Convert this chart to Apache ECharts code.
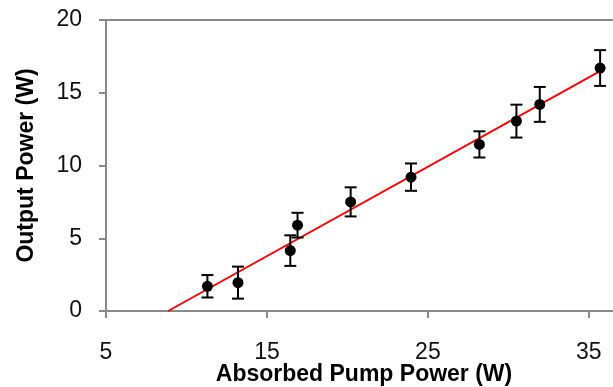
<!DOCTYPE html>
<html>
	<head>
		<meta charset="utf-8">
		<title></title>
		<script src="https://cdn.jsdelivr.net/npm/echarts@6/dist/echarts.min.js" type="text/javascript" charset="utf-8"></script>
		<style>
			body { margin: 0; background: #fff; }
		</style>
	</head>
	<body>
		<div id="mainChart" style="width: 613px;height:387px;"></div>
		<script type="text/javascript">
			// measured points (absorbed pump power, output power, error)
			var pumpPower = [11.3, 13.2, 16.45, 16.9, 20.2, 23.95, 28.2, 30.5, 31.95, 35.7];
			var outputPower = [1.7, 1.95, 4.15, 5.9, 7.5, 9.2, 11.45, 13.05, 14.2, 16.7];
			var errors = [0.77, 1.1, 1.05, 0.85, 1.0, 0.94, 0.9, 1.13, 1.2, 1.23];
			// linear fit end points
			var fitX = [8.86, 35.7];
			var fitY = [0, 16.48];

			var labelFont = 'Liberation Sans';
			var axisGray = '#898989';

			var pts = [];
			var bars = [];
			for (var i = 0; i < pumpPower.length; i++) {
				pts.push([pumpPower[i], outputPower[i]]);
				bars.push([pumpPower[i], outputPower[i] - errors[i], outputPower[i] + errors[i]]);
			}
			var fitData = [];
			for (var j = 0; j < fitX.length; j++) {
				fitData.push([fitX[j], fitY[j]]);
			}

			var myChart = echarts.init(document.getElementById('mainChart'));
			var option = {
				backgroundColor: '#fff',
				animation: false,
				title: {
					text: 'Absorbed Pump Power (W)',
					left: 364,
					top: 363,
					textAlign: 'center',
					padding: 0,
					textStyle: { fontFamily: labelFont, fontWeight: 'bold', fontSize: 23, color: '#000' }
				},
				grid: { left: 106, top: 20, bottom: 76, right: 0 },
				xAxis: [{
					type: 'value',
					min: 5, max: 36.5, interval: 10,
					axisLine: { lineStyle: { color: axisGray, width: 2 } },
					axisTick: { length: 7, lineStyle: { color: axisGray, width: 2 } },
					axisLabel: { margin: 30, fontFamily: labelFont, fontSize: 23, color: '#111', showMaxLabel: false },
					splitLine: { show: false }
				}, {
					// top border of the plot
					type: 'value',
					position: 'top',
					min: 5, max: 36.5,
					axisLine: { lineStyle: { color: axisGray, width: 2 } },
					axisTick: { show: false },
					axisLabel: { show: false },
					splitLine: { show: false }
				}],
				yAxis: {
					type: 'value',
					min: 0, max: 20, interval: 5,
					name: 'Output Power (W)',
					nameLocation: 'middle',
					nameGap: 68,
					nameTextStyle: { fontFamily: labelFont, fontWeight: 'bold', fontSize: 23, color: '#000' },
					axisLine: { lineStyle: { color: axisGray, width: 2 } },
					axisTick: { length: 7, lineStyle: { color: axisGray, width: 2 } },
					axisLabel: { margin: 24, fontFamily: labelFont, fontSize: 23, color: '#111' },
					splitLine: { show: false }
				},
				series: [{
					type: 'line',
					data: fitData,
					showSymbol: false,
					lineStyle: { color: '#ff0000', width: 2 },
					z: 3
				}, {
					type: 'custom',
					data: bars,
					renderItem: function(params, api) {
						var x = api.value(0);
						var lo = api.coord([x, api.value(1)]);
						var hi = api.coord([x, api.value(2)]);
						var w = 6;
						var st = { stroke: '#000', lineWidth: 2 };
						return {
							type: 'group',
							children: [
								{ type: 'line', shape: { x1: lo[0], y1: lo[1], x2: hi[0], y2: hi[1] }, style: st },
								{ type: 'line', shape: { x1: lo[0] - w, y1: lo[1], x2: lo[0] + w, y2: lo[1] }, style: st },
								{ type: 'line', shape: { x1: hi[0] - w, y1: hi[1], x2: hi[0] + w, y2: hi[1] }, style: st }
							]
						};
					},
					z: 4
				}, {
					type: 'scatter',
					data: pts,
					symbol: 'circle',
					symbolSize: 11,
					itemStyle: { color: '#000', opacity: 1 },
					z: 5
				}]
			};
			myChart.setOption(option);
		</script>
	</body>
</html>
